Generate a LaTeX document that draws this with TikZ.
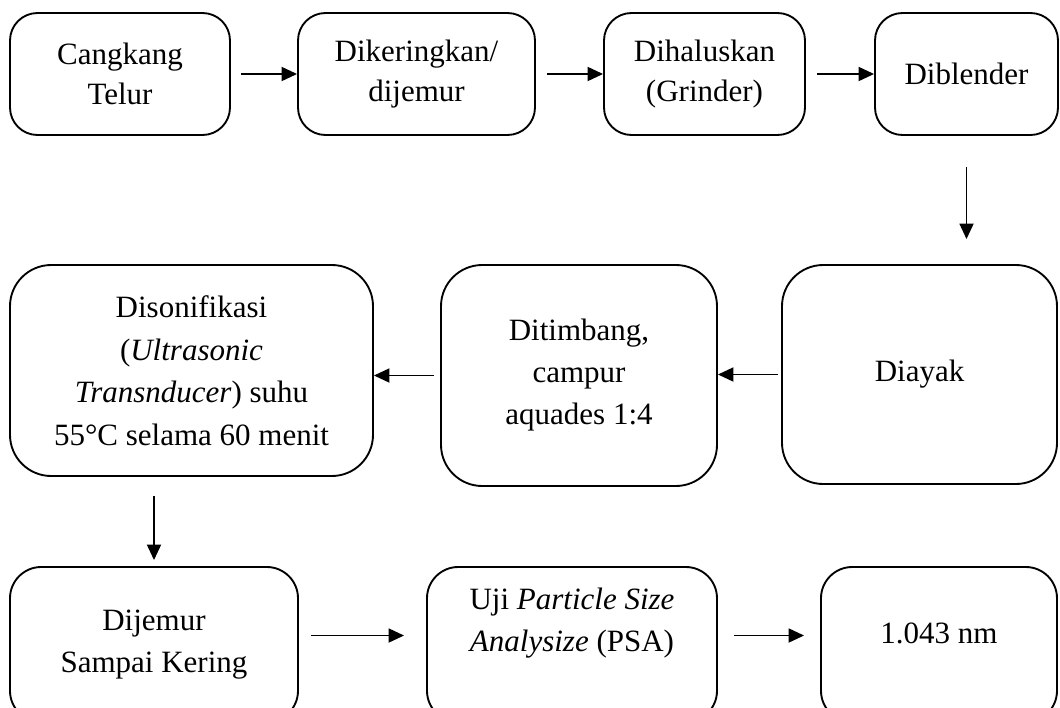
\documentclass[tikz,border=0pt]{standalone}
\usepackage{fontspec}
\setmainfont{Liberation Serif}
\usetikzlibrary{arrows.meta}

\begin{document}
\begin{tikzpicture}[x=0.4pt, y=-0.4pt,
    procbox/.style={draw, line width=0.75pt, rounded corners=#1, align=center, inner sep=0pt,
      font=\fontsize{12.4}{16.8}\selectfont},
    procbox/.default=11pt,
    flow/.style={line width=0.75pt, -{Triangle[length=6.2pt, width=5.6pt]}}]
  \useasboundingbox (0,0) rectangle (1060,707);
  \clip (0,0) rectangle (1060,707);

  % baris atas
  \node[procbox, minimum width=88pt, minimum height=48.8pt,
    font=\fontsize{12.4}{16}\selectfont] (cangkang) at (120,74) {Cangkang\\Telur};
  \node[procbox, minimum width=94.8pt, minimum height=48.8pt,
    font=\fontsize{12.4}{16}\selectfont] (kering) at (416.5,74) {Dikeringkan/\\dijemur};
  \node[procbox, minimum width=80.4pt, minimum height=48.8pt,
    font=\fontsize{12.4}{16}\selectfont] (halus) at (704.5,74) {Dihaluskan\\(Grinder)};
  \node[procbox, minimum width=73.2pt, minimum height=48.8pt] (blender) at (966.5,74) {Diblender};

  % baris tengah
  \node[procbox=16.5pt, minimum width=145.2pt, minimum height=84.4pt,
    font=\fontsize{12.4}{17}\selectfont] (sonik) at (191.5,370.5)
    {Disonifikasi\\(\textit{Ultrasonic}\\\textit{Transnducer}) suhu\\55°C selama 60 menit};
  \node[procbox=16.5pt, minimum width=110.4pt, minimum height=88.4pt] (timbang) at (579,375.5)
    {Ditimbang,\\campur\\aquades 1:4};
  \node[procbox=16.5pt, minimum width=110pt, minimum height=87.6pt] (ayak) at (919.5,374.5) {Diayak};

  % baris bawah (terpotong di tepi bawah)
  \node[procbox=12.5pt, minimum width=115.2pt, minimum height=62pt] (jemur) at (154,644.5)
    {Dijemur\\Sampai Kering};
  \node[procbox=12.5pt, minimum width=116pt, minimum height=62pt] (psa) at (572,644.5)
    {Uji \textit{Particle Size}\\\textit{Analysize} (PSA)\rule[-20pt]{0pt}{0pt}};
  \node[procbox=12.5pt, minimum width=94.4pt, minimum height=62pt] (hasil) at (939,644.5)
    {1.043 nm\rule[-9pt]{0pt}{0pt}};

  \draw[flow, shorten <=4pt] (cangkang.east) -- (kering.west);
  \draw[flow, shorten <=4.4pt] (kering.east) -- (halus.west);
  \draw[flow, shorten <=4.4pt] (halus.east) -- (blender.west);
  \draw[flow, shorten <=12.4pt, shorten >=10pt] (blender.south) -- (blender.south |- ayak.north);
  \draw[flow, shorten <=1.2pt] (ayak.west) -- (ayak.west -| timbang.east);
  \draw[flow, shorten <=2.4pt] (timbang.west) -- (timbang.west -| sonik.east);
  \draw[flow, shorten <=7.6pt, shorten >=2.4pt] (sonik.south -| jemur.north) -- (jemur.north);
  \draw[flow, shorten <=4.8pt, shorten >=8.8pt] ([yshift=3.6pt]jemur.east) -- ([yshift=3.6pt]psa.west);
  \draw[flow, shorten <=6.4pt, shorten >=6.4pt] ([yshift=3.6pt]psa.east) -- ([yshift=3.6pt]hasil.west);
\end{tikzpicture}
\end{document}
